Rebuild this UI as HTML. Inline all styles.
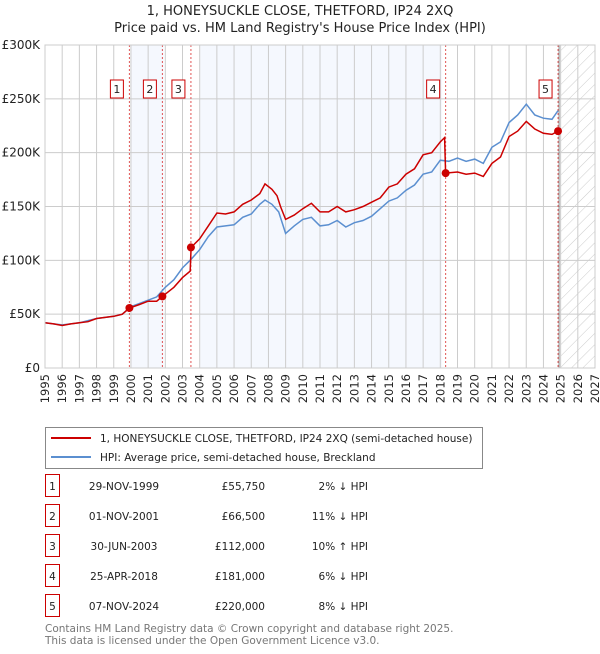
<!DOCTYPE html>
<html><head><meta charset="utf-8"><style>
body{margin:0;background:#fff;font-family:"DejaVu Sans","Liberation Sans",sans-serif;}
svg text{font-family:"DejaVu Sans","Liberation Sans",sans-serif;}
</style></head><body>
<svg id="c" width="600" height="650" xmlns="http://www.w3.org/2000/svg">
<defs><pattern id="hatch" width="8" height="8" patternUnits="userSpaceOnUse" patternTransform="rotate(45)"><line x1="0" y1="0" x2="0" y2="8" stroke="#ccc" stroke-width="1"/></pattern></defs>
<text x="300" y="15" text-anchor="middle" font-size="13" fill="#222">1, HONEYSUCKLE CLOSE, THETFORD, IP24 2XQ</text>
<text x="300" y="32" text-anchor="middle" font-size="13" fill="#222">Price paid vs. HM Land Registry's House Price Index (HPI)</text>
<g id="plot"></g>
<g>
<rect x="45.5" y="427.5" width="437" height="41" fill="#fff" stroke="#888"/>
<line x1="51" y1="438" x2="91" y2="438" stroke="#cc0000" stroke-width="2"/>
<text x="100" y="442" font-size="10.5" fill="#222">1, HONEYSUCKLE CLOSE, THETFORD, IP24 2XQ (semi-detached house)</text>
<line x1="51" y1="457" x2="91" y2="457" stroke="#5b8fd0" stroke-width="2"/>
<text x="100" y="461" font-size="10.5" fill="#222">HPI: Average price, semi-detached house, Breckland</text>
</g>
<g id="tbl" font-size="10.5" fill="#222"></g>
<text x="45" y="632" font-size="10.5" fill="#777">Contains HM Land Registry data © Crown copyright and database right 2025.</text>
<text x="45" y="644" font-size="10.5" fill="#777">This data is licensed under the Open Government Licence v3.0.</text>
</svg>
<script>
const hpiYears=[1995,1995.5,1996,1996.5,1997,1997.5,1998,1998.5,1999,1999.5,2000,2000.5,2001,2001.5,2002,2002.5,2003,2003.5,2004,2004.5,2005,2005.5,2006,2006.5,2007,2007.5,2007.8,2008.2,2008.6,2009,2009.5,2010,2010.5,2011,2011.5,2012,2012.5,2013,2013.5,2014,2014.5,2015,2015.5,2016,2016.5,2017,2017.5,2018,2018.5,2019,2019.5,2020,2020.5,2021,2021.5,2022,2022.5,2023,2023.5,2024,2024.5,2024.85];
const hpiValues=[42,41,40,41,42,44,46,47,48,50,57,60,63,66,75,82,93,101,110,122,131,132,133,140,143,152,156,152,145,125,132,138,140,132,133,137,131,135,137,141,148,155,158,165,170,180,182,193,192,195,192,194,190,205,210,228,235,245,235,232,231,239];
const redYears=[1995,1995.5,1996,1996.5,1997,1997.5,1998,1998.5,1999,1999.5,1999.91,2000.5,2001,2001.5,2001.83,2002.5,2003,2003.45,2003.5,2004,2004.5,2005,2005.5,2006,2006.5,2007,2007.5,2007.8,2008.2,2008.5,2008.7,2009,2009.5,2010,2010.5,2011,2011.5,2012,2012.5,2013,2013.5,2014,2014.5,2015,2015.5,2016,2016.5,2017,2017.5,2018,2018.25,2018.31,2019,2019.5,2020,2020.5,2021,2021.5,2022,2022.5,2023,2023.5,2024,2024.5,2024.85];
const redValues=[42,41,39.5,41,42,43,46,47,48,50,55.75,59,62,62,66.5,75,84,90,112,120,132,144,143,145,152,156,162,171,166,160,150,138,142,148,153,145,145,150,145,147,150,154,158,168,171,180,185,198,200,210,214,181,182,180,181,178,190,196,215,220,229,222,218,217,220];
const saleLabels=["1","2","3","4","5"];
const saleYears=[1999.91,2001.83,2003.49,2018.31,2024.85];
const saleValues=[55.75,66.5,112,181,220];
const saleDates=["29-NOV-1999","01-NOV-2001","30-JUN-2003","25-APR-2018","07-NOV-2024"];
const salePrices=["£55,750","£66,500","£112,000","£181,000","£220,000"];
const saleDiffs=["2% ↓ HPI","11% ↓ HPI","10% ↑ HPI","6% ↓ HPI","8% ↓ HPI"];
const yTicks=[0,50,100,150,200,250,300];
const yTickLabels=["£0","£50K","£100K","£150K","£200K","£250K","£300K"];
const xTicks=[1995,1996,1997,1998,1999,2000,2001,2002,2003,2004,2005,2006,2007,2008,2009,2010,2011,2012,2013,2014,2015,2016,2017,2018,2019,2020,2021,2022,2023,2024,2025,2026,2027];
const shadeBands=[[2000,2001.9],[2004,2018.1]];

const NS="http://www.w3.org/2000/svg";
const L=45,R=595,T=45,B=368;
const X=y=>L+(y-1995)/(2027-1995)*(R-L);
const Y=v=>B-v/300*(B-T);
const g=document.getElementById('plot');
function mk(t,a,p){const e=document.createElementNS(NS,t);for(const k in a)e.setAttribute(k,a[k]);(p||g).appendChild(e);return e;}
shadeBands.forEach(b=>{const r=mk('rect',{x:X(b[0]),y:T,width:X(b[1])-X(b[0]),height:B-T,fill:'#eef3fd',opacity:0.6});

});
const h=mk('rect',{x:X(2025),y:T,width:R-X(2025),height:B-T,fill:'url(#hatch)'});


xTicks.forEach(t=>{const l=mk('line',{x1:X(t),x2:X(t),y1:T,y2:B,stroke:'#ccc','stroke-width':1});


const tx=mk('text',{x:0,y:0,'font-size':11.5,fill:'#222','text-anchor':'end',transform:`translate(${X(t)+4},${B+6}) rotate(-90)`});tx.textContent=t;

});
yTicks.forEach((t,i)=>{const l=mk('line',{x1:L,x2:R,y1:Y(t),y2:Y(t),stroke:'#ccc','stroke-width':1});


const tx=mk('text',{x:L-5,y:Y(t)+4,'font-size':12,fill:'#222','text-anchor':'end'});tx.textContent=yTickLabels[i];

});
const gl=mk('line',{x1:X(2024.85)+1,x2:X(2024.85)+1,y1:T,y2:B,stroke:'#888','stroke-width':1});


saleYears.forEach((s,i)=>{const l=mk('line',{x1:X(s),x2:X(s),y1:T,y2:B,stroke:'#e05555','stroke-width':1,'stroke-dasharray':'2,2'});

});
const pts=(xs,vs)=>xs.map((x,i)=>X(x).toFixed(1)+','+Y(vs[i]).toFixed(1)).join(' ');
const hp=mk('polyline',{points:pts(hpiYears,hpiValues),fill:'none',stroke:'#5b8fd0','stroke-width':1.5});


const rp=mk('polyline',{points:pts(redYears,redValues),fill:'none',stroke:'#cc0000','stroke-width':1.5});


saleYears.forEach((s,i)=>{const c=mk('circle',{cx:X(s),cy:Y(saleValues[i]),r:4,fill:'#cc0000'});


const bx=mk('rect',{x:X(s)-19,y:80,width:13,height:18,fill:'#fff',stroke:'#cc0000'});


const tx=mk('text',{x:X(s)-12.5,y:93,'font-size':11,fill:'#222','text-anchor':'middle'});tx.textContent=saleLabels[i];

});
const tb=document.getElementById('tbl');
saleLabels.forEach((s,i)=>{const y=487+i*30;
const bx=mk('rect',{x:45.5,y:y-12.5,width:14,height:22,fill:'#fff',stroke:'#cc0000'},tb);


const a=mk('text',{x:52.5,y:y+3,'text-anchor':'middle'},tb);a.textContent=s;


const d=mk('text',{x:124,y:y+3,'text-anchor':'middle'},tb);d.textContent=saleDates[i];


const p=mk('text',{x:265,y:y+3,'text-anchor':'end'},tb);p.textContent=salePrices[i];


const f=mk('text',{x:368,y:y+3,'text-anchor':'end'},tb);f.textContent=saleDiffs[i];

});
const ax=mk('rect',{x:L,y:T,width:R-L,height:B-T,fill:'none',stroke:'#ccc'});


</script>
</body></html>
